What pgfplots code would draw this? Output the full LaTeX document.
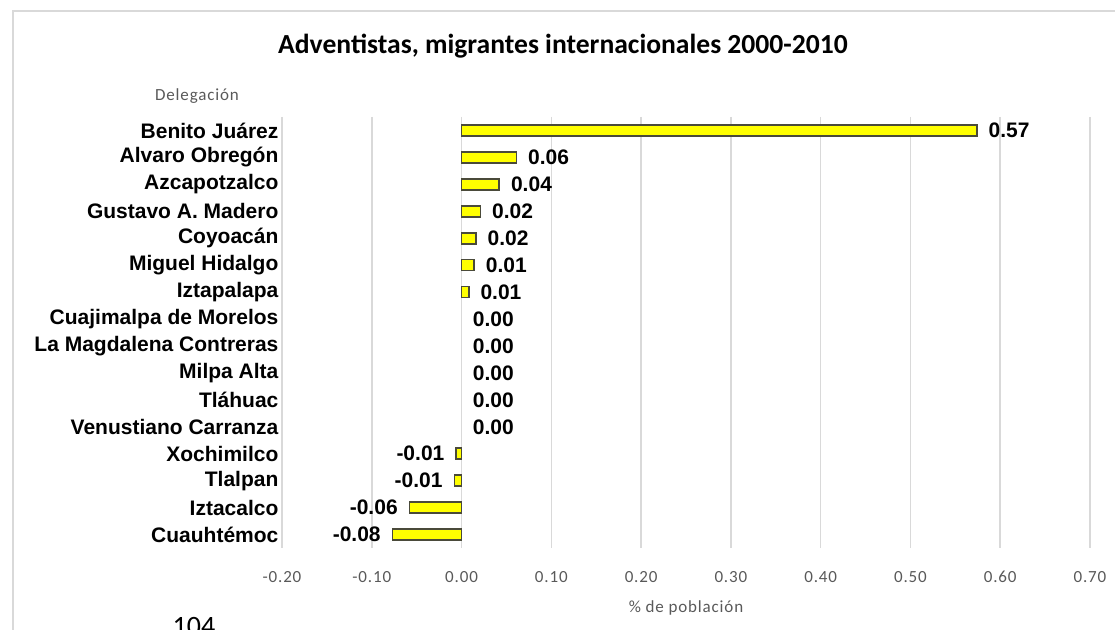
\documentclass[border=0pt]{standalone}
\usepackage{pgfplots}
\pgfplotsset{compat=1.18}
\usepackage{fontspec}
\setmainfont{Liberation Sans}
\newfontfamily\calibri{Carlito}
\newfontfamily\calibrisp{Carlito}[LetterSpace=5]
\definecolor{gridgray}{HTML}{D9D9D9}
\definecolor{tickgray}{HTML}{595959}
\definecolor{baryellow}{HTML}{FFFF00}
\definecolor{baredge}{HTML}{4A4A3A}

% values (% de población), top to bottom
\pgfplotstableread{
y val
0  0.574
1  0.061
2  0.042
3  0.021
4  0.016
5  0.014
6  0.008
12 -0.006
13 -0.008
14 -0.058
15 -0.077
}\datos
% rows whose value is 0.00 (no bar drawn, only the label)
\pgfplotstableread{
y val
7  0
8  0
9  0
10 0
11 0
}\ceros

\begin{document}
\begin{tikzpicture}
\useasboundingbox (0,0) rectangle (557.5pt,315pt);
\draw[gridgray, line width=0.8pt] (6.5pt,-5pt) -- (6.5pt,309.5pt) -- (565pt,309.5pt);
\node[font=\calibri\bfseries\fontsize{13.8}{16}\selectfont] at (281.5pt,292pt)
  {Adventistas, migrantes internacionales 2000-2010};
\node[font=\calibrisp\fontsize{8.5}{10}\selectfont, text=tickgray] at (98.5pt,267pt) {Delegación};
\node[font=\calibrisp\fontsize{8.5}{10}\selectfont, text=tickgray] at (343pt,11pt) {\% de población};
\node[font=\calibri\fontsize{14}{16}\selectfont, anchor=north] at (97pt,10pt) {104};

\begin{axis}[
    at={(141pt,41pt)}, anchor=south west,
    width=404pt, height=215.5pt, scale only axis,
    xbar, bar width=5.5pt, bar shift=0pt,
    xmin=-0.2, xmax=0.7,
    ymin=-0.5, ymax=15.5,
    y dir=reverse,
    axis line style={draw=none},
    tick style={draw=none},
    xtick={-0.2,-0.1,0,0.1,0.2,0.3,0.4,0.5,0.6,0.7},
    xmajorgrids=true,
    grid style={gridgray, line width=0.8pt},
    xticklabel style={font=\calibrisp\fontsize{8.5}{10}\selectfont, text=tickgray, yshift=-8pt,
        /pgf/number format/.cd, fixed, fixed zerofill, precision=2, assume math mode=true},
    scaled x ticks=false,
    ytick={0,...,15},
    yticklabels={Benito Juárez, Alvaro Obregón, Azcapotzalco, Gustavo A. Madero, Coyoacán,
        Miguel Hidalgo, Iztapalapa, Cuajimalpa de Morelos, La Magdalena Contreras, Milpa Alta,
        Tláhuac, Venustiano Carranza, Xochimilco, Tlalpan, Iztacalco, Cuauhtémoc},
    yticklabel style={font=\bfseries\fontsize{10.5}{12}\selectfont, xshift=6pt},
    nodes near coords,
    point meta=x,
    nodes near coords style={font=\bfseries\fontsize{10.5}{12}\selectfont, inner xsep=5.5pt,
        /pgf/number format/.cd, fixed, fixed zerofill, precision=2, assume math mode=true},
]
\addplot[fill=baryellow, draw=baredge, line width=0.8pt] table[x=val, y=y] {\datos};
\addplot[fill=none, draw=none] table[x=val, y=y] {\ceros};
\end{axis}
\end{tikzpicture}
\end{document}
